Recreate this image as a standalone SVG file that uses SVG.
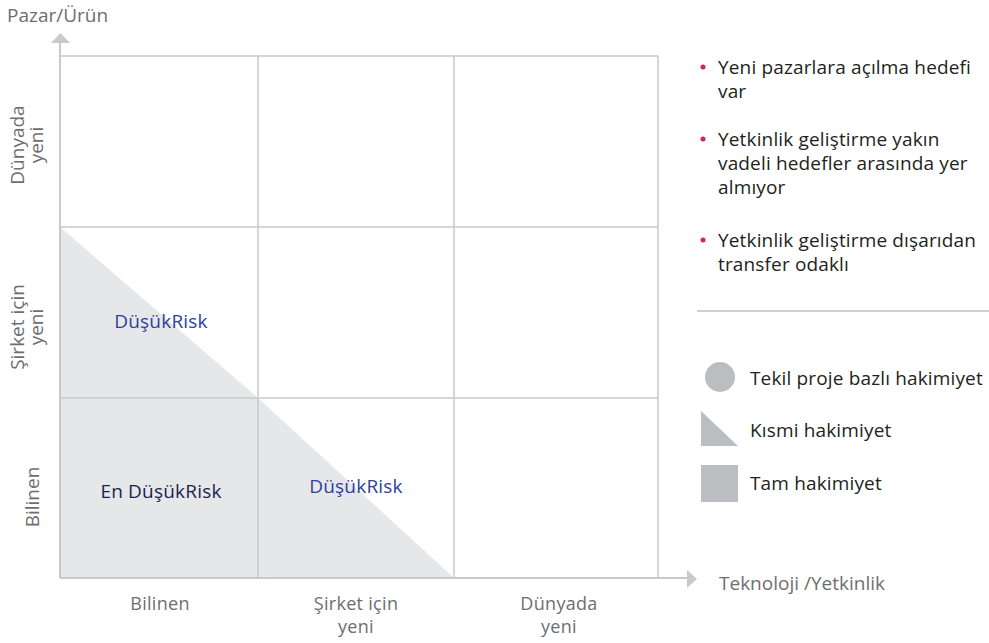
<svg xmlns="http://www.w3.org/2000/svg" width="989" height="643" viewBox="0 0 989 643">
  <style>
    .grid { stroke: #c8c9cc; stroke-width: 1.5; fill: none; }
    .axis { stroke: #c8c9cc; stroke-width: 2; fill: none; }
    .axlbl { font-family: "Open Sans", "Liberation Sans", sans-serif; font-size: 19px; fill: #6d6e71; }
    .collbl { font-size: 18px; letter-spacing: 0.3px; }
    .cell { font-family: "Open Sans", "Liberation Sans", sans-serif; font-size: 19px; text-anchor: middle; letter-spacing: 0.2px; }
    .bullet { font-family: "Open Sans", "Liberation Sans", sans-serif; font-size: 19px; fill: #231f20; letter-spacing: 0.15px; }
    .dot { fill: #d81e64; }
    .legend { fill: #bcbdc1; }
  </style>

  <rect width="989" height="643" fill="#ffffff"/>

  <!-- shaded risk area -->
  <g id="shade">
    <polygon points="60,227 258,398 454,578 60,578" fill="#e6e7e8"/>
  </g>

  <!-- matrix grid -->
  <g id="grid">
    <line class="grid" x1="60" y1="56" x2="658" y2="56"/>
    <line class="grid" x1="60" y1="227" x2="658" y2="227"/>
    <line class="grid" x1="60" y1="398" x2="658" y2="398"/>
    <line class="grid" x1="258" y1="56" x2="258" y2="578"/>
    <line class="grid" x1="454" y1="56" x2="454" y2="578"/>
    <line class="grid" x1="658" y1="56" x2="658" y2="578"/>
  </g>

  <!-- axes -->
  <g id="connectors">
    <line class="axis" x1="60" y1="578" x2="60" y2="43"/>
    <polygon points="51,43 70,43 60.5,33" fill="#c8c9cc"/>
    <line class="axis" x1="60" y1="578" x2="687" y2="578"/>
    <polygon points="687,570 687,588 697,579" fill="#c8c9cc"/>
  </g>

  <g id="axis-y-title"><text class="axlbl" x="7" y="22">Pazar/Ürün</text></g>
  <g id="axis-x-title"><text class="axlbl" x="719" y="590">Teknoloji /Yetkinlik</text></g>

  <!-- row labels -->
  <g id="row-world">
    <text class="axlbl" text-anchor="middle" transform="translate(33,145) rotate(-90)"><tspan x="0" y="-9">Dünyada</tspan><tspan x="0" y="10">yeni</tspan></text>
  </g>
  <g id="row-company">
    <text class="axlbl" text-anchor="middle" transform="translate(33,327) rotate(-90)"><tspan x="0" y="-9">Şirket için</tspan><tspan x="0" y="10">yeni</tspan></text>
  </g>
  <g id="row-known">
    <text class="axlbl" text-anchor="middle" transform="translate(33,497) rotate(-90)"><tspan x="0" y="6">Bilinen</tspan></text>
  </g>

  <!-- column labels -->
  <g id="col-known"><text class="axlbl collbl" text-anchor="middle" x="160" y="610">Bilinen</text></g>
  <g id="col-company"><text class="axlbl collbl" text-anchor="middle"><tspan x="356" y="610">Şirket için</tspan><tspan x="356" y="633">yeni</tspan></text></g>
  <g id="col-world"><text class="axlbl collbl" text-anchor="middle"><tspan x="559" y="610">Dünyada</tspan><tspan x="559" y="633">yeni</tspan></text></g>

  <!-- cell labels -->
  <g id="cell-low-1"><text class="cell" x="161" y="328" fill="#2e3f9e">DüşükRisk</text></g>
  <g id="cell-lowest"><text class="cell" x="161" y="498" fill="#1c1f4f">En DüşükRisk</text></g>
  <g id="cell-low-2"><text class="cell" x="356" y="493" fill="#2e3f9e">DüşükRisk</text></g>

  <!-- bullet notes -->
  <g id="note-1">
    <circle class="dot" cx="703" cy="67" r="2.5"/>
    <text class="bullet"><tspan x="718" y="74">Yeni pazarlara açılma hedefi</tspan><tspan x="718" y="98">var</tspan></text>
  </g>
  <g id="note-2">
    <circle class="dot" cx="703" cy="139" r="2.5"/>
    <text class="bullet"><tspan x="718" y="146">Yetkinlik geliştirme yakın</tspan><tspan x="718" y="170">vadeli hedefler arasında yer</tspan><tspan x="718" y="194">almıyor</tspan></text>
  </g>
  <g id="note-3">
    <circle class="dot" cx="703" cy="240" r="2.5"/>
    <text class="bullet"><tspan x="718" y="247">Yetkinlik geliştirme dışarıdan</tspan><tspan x="718" y="271">transfer odaklı</tspan></text>
  </g>

  <line x1="697" y1="311" x2="989" y2="311" stroke="#cfd0d2" stroke-width="2"/>

  <!-- legend -->
  <g id="legend-single">
    <circle class="legend" cx="720" cy="377" r="15"/>
    <text class="bullet" x="750" y="385">Tekil proje bazlı hakimiyet</text>
  </g>
  <g id="legend-partial">
    <polygon class="legend" points="701,411 738,446 701,446"/>
    <text class="bullet" x="750" y="437">Kısmi hakimiyet</text>
  </g>
  <g id="legend-full">
    <rect class="legend" x="701" y="465" width="37" height="37"/>
    <text class="bullet" x="750" y="490">Tam hakimiyet</text>
  </g>
</svg>
